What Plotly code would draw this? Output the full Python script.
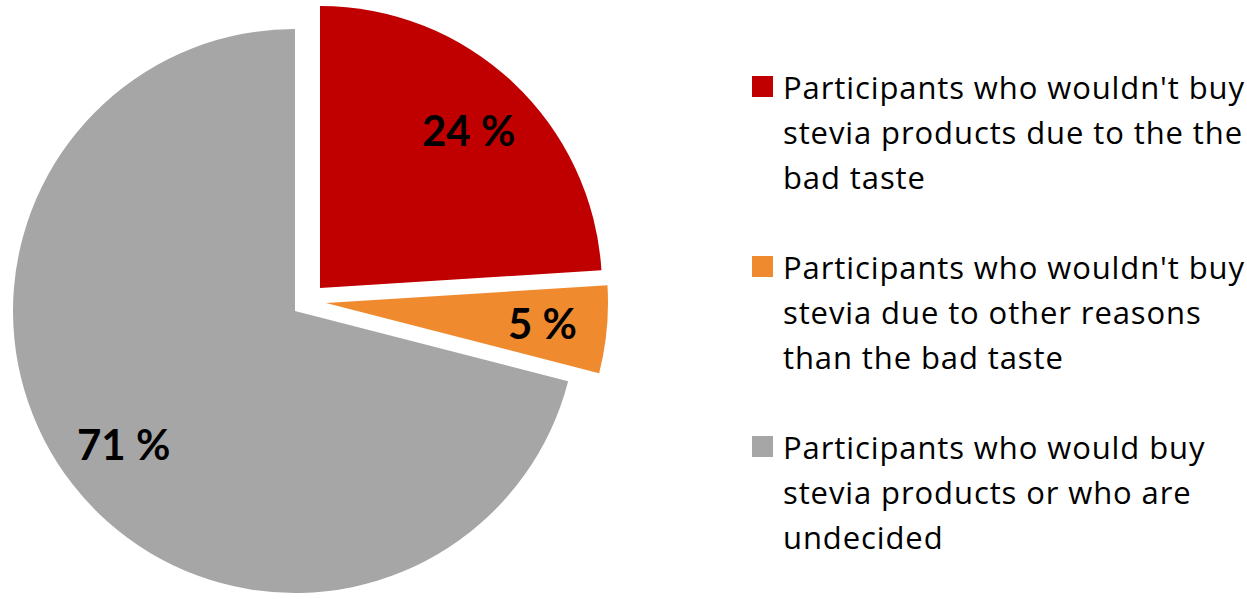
import math
import plotly.graph_objects as go

# Survey shares (percent)
values = [24, 5, 71]
legend_labels = [
    "Participants who wouldn't buy<br>stevia products due to the the<br>bad taste",
    "Participants who wouldn't buy<br>stevia due to other reasons<br>than the bad taste",
    "Participants who would buy<br>stevia products or who are<br>undecided",
]
colors = ["#C00000", "#F08A2F", "#A6A6A6"]

W, H = 1247, 599
R = 282
# pixel centres of each wedge (the first two are exploded away from the pie)
centers = [(320, 288), (326, 303), (295, 311)]
draw_order = [2, 0, 1]

fig = go.Figure()
for i in draw_order:
    cx, cy = centers[i]
    slice_colors = [colors[j] if j == i else "rgba(0,0,0,0)" for j in range(len(values))]
    fig.add_trace(go.Pie(
        values=values,
        labels=[l.replace("<br>", " ") for l in legend_labels],
        sort=False,
        direction="clockwise",
        rotation=0,
        marker=dict(colors=slice_colors, line=dict(width=0)),
        textinfo="none",
        hoverinfo="skip",
        showlegend=False,
        domain=dict(x=[(cx - R) / W, (cx + R) / W],
                    y=[(H - cy - R) / H, (H - cy + R) / H]),
    ))

annotations = []
shapes = []

# percentage labels along each wedge's bisector
total = sum(values)
start = 0.0
label_frac = 0.77
for i, v in enumerate(values):
    mid = (start + v / 2) / total * 2 * math.pi
    start += v
    cx, cy = centers[i]
    px = cx + label_frac * R * math.sin(mid)
    py = cy - label_frac * R * math.cos(mid)
    annotations.append(dict(
        x=px / W, y=1 - py / H, xref="paper", yref="paper",
        text=f"<b>{v} %</b>", showarrow=False,
        xanchor="center", yanchor="middle",
        font=dict(family="Lato", size=42, color="#000000"),
    ))

# legend: swatch + wrapped label lines
fs = 31
for i, lab in enumerate(legend_labels):
    top = 76 + 180 * i
    shapes.append(dict(
        type="rect", xref="paper", yref="paper",
        x0=752 / W, x1=773 / W, y0=1 - (top + 21) / H, y1=1 - top / H,
        fillcolor=colors[i], line=dict(width=0),
    ))
    for k, line in enumerate(lab.split("<br>")):
        base = 97 + 180 * i + 45 * k
        annotations.append(dict(
            x=781 / W, y=1 - (base - 0.33 * fs) / H, xref="paper", yref="paper",
            text=f'<span style="letter-spacing:0.9px">{line}</span>',
            showarrow=False, xanchor="left", yanchor="middle",
            font=dict(family="Open Sans", size=fs, color="#000000"),
        ))

fig.update_layout(
    width=W, height=H,
    margin=dict(l=0, r=0, t=0, b=0),
    paper_bgcolor="white", plot_bgcolor="white",
    showlegend=False,
    annotations=annotations, shapes=shapes,
)

fig.write_html("out.html")
